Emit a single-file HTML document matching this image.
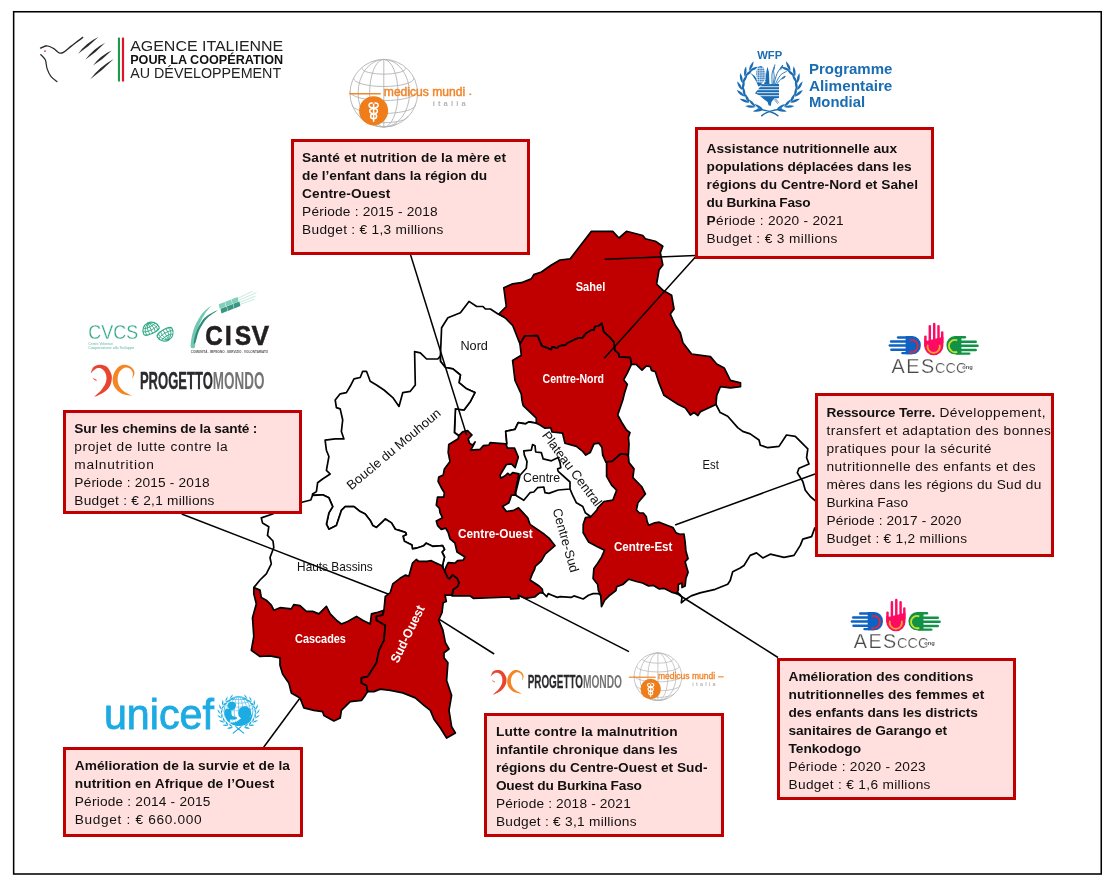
<!DOCTYPE html>
<html lang="fr"><head><meta charset="utf-8"><title>Burkina Faso – projets nutrition</title>
<style>
html,body{margin:0;padding:0;background:#fff;}
body{width:1118px;height:882px;position:relative;overflow:hidden;font-family:"Liberation Sans",sans-serif;}
svg{position:absolute;left:0;top:0;}
svg text{font-family:"Liberation Sans",sans-serif;}
.w{fill:#fff;stroke:#000;stroke-width:1.7;stroke-linejoin:round;}
.r{fill:#c00000;stroke:#000;stroke-width:1.7;stroke-linejoin:round;}
.l{fill:none;stroke:#000;stroke-width:1.7;stroke-linejoin:round;}
.ld{stroke:#000;stroke-width:1.5;}
.box{position:absolute;border:3px solid #c00000;background:#ffe0de;box-sizing:content-box;}
.tx{position:absolute;top:0;}
.ln{position:absolute;left:0;white-space:nowrap;font-size:13.7px;line-height:18.03px;height:18.03px;color:#111;}
.ln b{font-weight:700;}
</style></head><body>
<svg width="1118" height="882" viewBox="0 0 1118 882">
<rect x="13.65" y="11.75" width="1087.6" height="862.25" fill="none" stroke="#000" stroke-width="1.55"/>
<polygon class="w" points="440.4,356.0 441.6,327.8 447.9,317.7 460.4,312.7 469.0,301.4 476.7,306.5 483.0,306.5 485.4,309.0 490.4,309.0 498.0,314.0 510.0,320.0 525.0,345.0 525.0,395.0 540.0,420.0 536.3,423.2 528.8,421.9 525.7,423.8 518.2,422.6 515.0,429.4 505.7,431.3 506.9,443.9 500.0,456.0 475.0,457.0 464.0,447.0 462.0,438.0 458.8,435.7 454.4,432.5 455.4,408.9 464.0,410.0 470.4,401.4 474.9,392.6 466.6,388.8 459.0,382.6 460.4,375.0 452.9,368.8 445.4,367.5 440.4,361.3 440.4,356.0"/>
<polygon class="w" points="440.4,356.0 440.4,361.3 445.4,367.5 452.9,368.8 460.4,375.0 459.0,382.6 466.6,388.8 474.9,392.6 470.4,401.4 464.0,410.0 455.4,408.9 454.4,432.5 458.8,435.7 464.0,445.0 460.0,500.0 460.0,540.0 470.0,557.0 460.0,566.0 450.0,572.0 444.5,570.8 444.5,570.8 443.2,570.0 442.6,565.1 444.5,557.0 442.0,552.0 444.5,549.4 442.6,545.7 432.6,546.3 426.3,543.2 423.8,545.7 416.3,548.2 412.5,548.8 411.9,545.0 404.4,541.3 403.0,536.3 406.3,534.4 405.6,532.5 400.0,530.6 395.3,529.2 391.5,522.9 385.3,519.0 382.7,521.7 376.5,527.4 372.7,525.4 370.2,520.4 365.2,514.0 360.2,511.6 354.0,506.6 345.2,506.6 341.4,510.4 336.4,525.4 328.9,529.2 326.4,524.2 328.9,512.9 332.7,506.6 328.9,497.8 322.6,494.8 312.6,495.3 312.6,494.0 316.4,491.6 317.6,482.8 322.6,479.0 330.2,474.0 326.4,470.3 328.9,456.5 326.4,450.2 325.1,440.2 335.2,438.9 343.9,438.9 341.4,431.4 342.7,420.0 340.2,408.9 336.4,407.6 335.2,400.0 340.2,393.8 346.4,392.6 350.2,386.3 354.0,378.8 360.2,377.5 362.7,371.3 366.5,371.3 370.2,381.3 376.5,385.0 384.0,390.0 392.8,397.6 399.0,406.4 402.8,392.6 410.3,391.3 415.3,385.0 414.6,351.6 420.3,352.8 426.6,359.0 437.8,359.0 440.4,356.0"/>
<polygon class="w" points="312.6,495.3 322.6,494.8 328.9,497.8 332.7,506.6 328.9,512.9 326.4,524.2 328.9,529.2 336.4,525.4 341.4,510.4 345.2,506.6 354.0,506.6 360.2,511.6 365.2,514.0 370.2,520.4 372.7,525.4 376.5,527.4 382.7,521.7 385.3,519.0 391.5,522.9 395.3,529.2 400.0,530.6 405.6,532.5 406.3,534.4 403.0,536.3 404.4,541.3 411.9,545.0 412.5,548.8 416.3,548.2 423.8,545.7 426.3,543.2 432.6,546.3 442.6,545.7 444.5,549.4 442.0,552.0 444.5,557.0 442.6,565.1 443.2,570.0 444.5,570.8 440.0,580.0 400.0,600.0 390.0,615.0 370.0,630.0 340.0,630.0 320.0,620.0 300.0,612.0 275.0,615.0 262.0,605.0 257.0,592.0 253.8,587.6 260.0,580.0 266.3,573.8 271.3,563.8 270.0,557.5 273.8,547.5 273.0,541.0 267.5,535.4 268.8,526.7 262.5,522.9 261.3,517.9 272.6,514.0 290.0,505.0 302.0,502.3 310.8,500.0 313.0,494.0"/>
<polygon class="w" points="716.0,404.5 720.2,412.6 727.7,416.3 737.7,427.6 742.7,431.4 750.2,433.9 759.0,440.0 760.3,445.2 767.8,447.7 779.0,446.4 786.5,435.0 795.3,436.4 805.3,446.4 807.8,448.9 806.6,457.7 809.0,464.0 799.0,468.2 797.3,472.7 802.8,481.5 805.3,490.3 810.3,496.5 814.8,500.3 820.0,505.0 820.0,525.0 814.8,527.9 811.6,536.6 802.8,539.1 800.3,545.4 794.0,555.4 784.0,557.4 770.3,554.2 762.8,557.9 756.5,552.9 750.2,555.4 744.0,565.5 740.2,568.0 732.7,571.7 730.2,580.5 727.7,584.3 715.2,589.3 700.0,592.9 691.2,595.9 685.1,599.7 681.3,602.8 682.0,597.4 680.5,595.2 677.0,592.0 670.0,580.0 670.0,540.0 660.0,530.0 638.0,520.0 630.0,500.0 635.0,486.0 627.0,470.0 622.0,458.0 622.0,440.0 618.0,425.0 612.0,415.0 617.0,400.0 618.0,385.0 624.0,370.0 626.0,363.0 635.0,360.0 645.0,362.0 652.0,365.0 662.0,380.0 668.0,393.0 680.0,401.0 688.0,405.0 694.0,408.0 700.0,408.0 712.0,402.0"/>
<polygon class="w" points="542.9,592.9 546.7,596.7 548.2,593.6 552.0,595.2 557.4,597.4 560.4,596.7 571.0,597.4 574.0,595.9 583.2,599.0 588.5,595.2 593.1,593.6 598.4,593.6 600.7,595.2 606.0,590.0 602.0,580.0 600.0,568.0 610.0,552.0 595.0,540.0 590.0,528.0 592.0,520.0 603.0,510.0 612.0,505.0 620.0,495.0 616.0,482.0 612.0,470.0 611.0,464.0 610.0,456.0 606.0,445.0 597.0,438.0 588.0,446.0 578.0,440.0 570.0,436.0 567.0,428.0 556.0,426.0 548.0,422.0 540.0,420.0 536.3,423.2 528.8,421.9 525.7,423.8 518.2,422.6 515.0,429.4 505.7,431.3 506.9,443.9 503.0,450.0 495.0,470.0 495.0,482.0 505.0,490.0 497.0,506.0 505.0,518.0 520.0,520.0 535.0,535.0 548.0,546.0 538.0,556.0 528.0,570.0 526.0,582.0 536.0,590.0"/>
<polygon class="w" points="523.8,450.8 531.3,450.1 532.6,444.5 535.0,445.7 535.7,452.0 541.3,452.6 543.2,458.9 551.4,460.8 558.2,457.6 560.0,462.7 560.8,467.7 557.6,468.9 558.2,471.4 570.0,482.0 570.0,489.0 558.2,490.0 548.9,493.4 545.0,492.7 543.8,487.0 537.6,487.7 533.8,492.0 530.0,492.7 523.8,500.3 515.7,495.2 515.7,492.7 520.0,475.2 526.3,468.3 527.0,461.4 524.4,455.1"/>
<polyline class="l" points="570.0,489.0 572.6,495.2 576.4,502.8 582.8,506.5 585.3,512.8 590.8,516.8"/>
<polygon class="r" points="591.4,231.3 612.7,231.3 619.0,238.0 626.5,231.3 642.8,235.5 645.3,238.8 655.3,241.3 662.8,246.3 660.3,252.6 662.8,265.0 659.0,270.0 656.6,284.0 662.8,290.2 671.6,295.2 674.0,309.0 670.3,314.0 675.3,325.3 680.3,332.8 682.9,342.8 691.6,354.0 710.4,356.6 716.7,364.0 724.2,367.9 730.4,380.4 740.5,382.9 740.5,386.7 730.4,387.9 720.4,386.7 716.7,395.4 716.0,404.5 700.4,411.7 697.9,415.5 694.0,412.5 690.4,415.0 685.4,408.0 677.8,404.2 664.0,395.4 659.0,382.9 655.3,371.6 651.5,370.4 650.3,366.6 646.4,365.8 642.0,370.2 636.1,364.3 631.4,364.3 630.2,357.7 619.2,357.0 618.4,353.3 614.7,350.3 614.0,342.2 609.6,337.1 603.7,331.9 601.8,323.4 598.5,326.0 594.8,326.7 594.1,330.1 591.2,330.1 586.0,333.4 582.3,338.1 578.6,337.8 567.6,343.0 565.4,345.2 559.5,345.9 557.3,348.1 552.1,346.9 551.4,349.6 541.8,345.9 537.4,335.6 531.3,335.8 525.0,335.8 520.0,344.0 512.6,325.3 505.0,317.7 498.8,314.0 506.3,306.5 503.8,287.7 512.6,283.9 521.3,282.7 531.3,278.9 533.8,274.6 541.4,272.0 551.4,265.0 560.0,260.0 570.2,258.8"/>
<polygon class="r" points="520.0,344.0 525.0,335.8 531.3,335.8 537.4,335.6 541.8,345.9 551.4,349.6 552.1,346.9 557.3,348.1 559.5,345.9 565.4,345.2 567.6,343.0 578.6,337.8 582.3,338.1 586.0,333.4 591.2,330.1 594.1,330.1 594.8,326.7 598.5,326.0 601.8,323.4 603.7,331.9 609.6,337.1 614.0,342.2 614.7,350.3 618.4,353.3 619.2,357.0 630.2,357.7 631.4,364.3 627.3,373.2 623.6,379.8 627.3,384.2 624.3,393.8 622.9,399.7 617.7,415.0 621.5,422.0 626.5,430.0 630.0,432.6 628.4,437.6 629.0,443.9 628.4,455.1 626.5,454.5 620.8,453.9 616.5,457.6 612.0,461.4 605.8,462.0 602.7,455.1 602.0,447.6 599.0,443.2 594.0,443.9 590.2,452.6 585.8,455.1 582.7,451.4 576.4,446.4 565.0,443.2 562.6,433.2 552.0,432.0 550.7,427.6 545.0,428.2 540.0,425.0 536.3,423.2 536.3,418.2 523.2,405.6 521.9,400.0 521.3,394.2 515.0,380.4 512.6,360.4 521.3,355.3"/>
<polygon class="r" points="462.6,431.9 467.6,430.7 472.0,435.0 468.2,438.8 469.5,443.2 472.6,445.1 475.1,441.9 472.6,446.9 470.7,450.1 480.1,449.4 483.2,445.7 488.9,445.1 490.1,442.6 505.8,443.8 507.6,448.2 514.5,448.2 518.3,457.0 515.2,467.6 511.4,463.9 506.4,464.5 500.1,475.1 500.8,478.3 505.1,475.8 507.6,473.3 510.1,475.1 512.7,472.6 518.9,473.9 515.2,492.7 515.7,495.2 511.4,495.2 508.9,502.8 502.6,506.5 506.4,511.5 513.9,510.3 518.5,507.8 527.7,517.8 530.0,524.4 544.4,534.3 549.0,538.1 555.0,545.7 545.2,554.1 541.4,560.9 535.3,566.3 534.6,569.3 532.3,573.9 530.0,580.0 539.1,586.0 542.2,589.0 542.9,592.9 540.0,592.7 534.6,597.0 525.2,598.3 518.3,595.2 519.0,598.3 510.8,599.0 510.2,597.0 473.3,598.3 470.0,595.8 452.0,595.8 453.2,589.5 457.6,586.4 458.9,582.7 457.0,578.3 452.6,575.1 449.5,578.9 447.6,577.6 444.5,570.8 446.3,566.4 448.2,562.6 455.0,563.2 457.6,560.7 463.2,560.1 465.0,557.0 457.0,552.0 455.0,543.2 450.0,538.8 448.2,532.5 445.7,528.1 441.3,529.4 437.6,525.6 436.3,520.9 442.5,517.7 440.0,512.7 439.4,508.3 436.3,505.2 437.5,497.1 443.8,497.1 444.4,492.7 441.3,487.7 438.1,481.4 438.8,477.0 443.2,475.1 444.4,468.9 450.0,461.4 448.2,452.6 448.8,444.4 458.2,438.8 458.8,435.7"/>
<polygon class="r" points="605.8,462.0 612.0,461.4 616.5,457.6 620.8,453.9 626.5,454.5 628.4,456.4 629.0,462.6 634.0,468.9 632.9,477.7 641.6,486.5 645.4,494.0 637.9,502.8 636.4,510.0 639.5,513.0 643.3,513.0 646.3,516.8 647.1,521.4 648.6,525.2 654.7,522.9 659.3,522.2 666.9,525.2 672.9,527.5 676.0,532.8 679.8,534.3 684.0,534.0 685.1,541.9 685.9,551.0 688.1,558.7 685.1,561.7 688.1,572.3 685.9,578.4 685.1,586.0 682.0,587.6 682.0,583.0 678.3,584.5 678.3,589.8 676.7,593.6 671.4,592.1 663.8,588.3 659.3,589.0 653.2,585.3 648.6,586.0 642.5,583.0 636.4,581.5 628.8,579.2 622.8,584.5 616.7,586.8 615.9,590.6 609.8,595.2 604.5,600.5 601.5,606.6 600.7,595.2 598.4,590.6 597.7,584.5 593.1,578.4 593.9,568.5 597.7,563.2 601.5,557.1 604.5,550.3 596.9,546.5 588.5,541.9 583.2,532.8 583.2,524.4 585.5,517.6 590.8,516.8 596.9,510.0 597.8,507.8 604.0,501.5 612.8,500.2 616.6,490.2 611.6,485.2 606.6,476.4 606.6,462.6"/>
<polygon class="r" points="253.8,587.6 260.0,590.1 261.3,597.6 266.3,600.2 271.3,605.2 273.8,610.2 280.0,607.7 291.3,608.9 293.8,604.7 300.0,605.7 306.4,611.4 312.6,611.4 318.9,613.9 326.4,606.4 330.2,613.9 336.4,620.2 341.4,624.0 347.7,621.5 356.5,616.4 362.7,620.2 370.2,624.0 371.5,613.9 376.5,612.7 384.0,610.2 382.7,615.2 376.5,616.4 376.5,620.2 385.3,625.2 384.0,640.3 379.0,650.3 376.5,662.8 370.2,672.8 367.7,676.6 361.5,677.8 361.5,682.9 366.5,685.4 367.7,691.6 365.2,695.4 361.5,700.4 350.2,701.7 341.4,710.4 340.2,718.0 333.9,721.0 323.9,715.4 322.6,711.7 313.9,710.4 303.9,707.9 300.0,697.9 291.3,692.9 288.8,682.9 282.6,674.1 280.0,665.3 280.0,657.8 270.0,655.8 260.0,656.5 251.3,650.3 253.8,636.5 252.5,617.7 256.3,603.9 253.8,593.9"/>
<polygon class="r" points="384.0,610.2 385.3,596.4 390.3,592.6 392.8,583.9 400.0,578.3 405.6,575.1 408.8,576.4 410.6,570.0 412.5,563.2 416.3,559.5 418.8,561.4 426.9,561.4 431.3,560.7 435.0,562.6 441.9,565.7 444.5,570.8 447.6,577.6 449.5,578.9 452.6,575.1 457.0,578.3 458.9,582.7 457.6,586.4 453.2,589.5 452.0,595.2 445.0,595.0 446.3,601.5 443.2,602.7 442.0,612.7 440.0,617.0 438.8,620.3 442.9,630.2 445.4,642.8 449.0,649.0 444.0,652.8 444.0,657.8 447.9,662.8 446.6,680.4 451.6,695.4 449.0,710.4 451.6,726.7 455.4,733.0 446.6,738.0 440.4,728.0 434.0,719.2 430.3,710.4 424.0,705.4 415.3,697.9 402.8,692.9 390.3,690.4 380.2,689.1 374.0,691.6 367.7,691.6 366.5,685.4 361.5,682.9 361.5,677.8 367.7,676.6 370.2,672.8 376.5,662.8 379.0,650.3 384.0,640.3 385.3,625.2 376.5,620.2 376.5,616.4 382.7,615.2"/>
<line class="ld" x1="410.3" y1="254" x2="466.6" y2="435"/>
<line class="ld" x1="695.4" y1="255.5" x2="604.7" y2="259.3"/>
<line class="ld" x1="695.4" y1="257" x2="604" y2="358.6"/>
<line class="ld" x1="181.7" y1="514" x2="388" y2="594"/>
<line class="ld" x1="815" y1="474" x2="675.1" y2="525"/>
<line class="ld" x1="263.1" y1="748" x2="300" y2="698"/>
<line class="ld" x1="439.8" y1="619.6" x2="494.2" y2="654"/>
<line class="ld" x1="518.3" y1="595.2" x2="629" y2="651.6"/>
<line class="ld" x1="676" y1="593" x2="778" y2="657.5"/>
<text x="590.5" y="291" text-anchor="middle" font-size="13" fill="#fff" font-weight="700" textLength="29.5" lengthAdjust="spacingAndGlyphs">Sahel</text>
<text x="573.3" y="382.6" text-anchor="middle" font-size="13" fill="#fff" font-weight="700" textLength="61.5" lengthAdjust="spacingAndGlyphs">Centre-Nord</text>
<text x="474.2" y="349.6" text-anchor="middle" font-size="13" fill="#111" font-weight="400" textLength="27.5" lengthAdjust="spacingAndGlyphs">Nord</text>
<text x="495.3" y="538.4" text-anchor="middle" font-size="13" fill="#fff" font-weight="700" textLength="74.7" lengthAdjust="spacingAndGlyphs">Centre-Ouest</text>
<text x="643.2" y="550.8" text-anchor="middle" font-size="13" fill="#fff" font-weight="700" textLength="58.4" lengthAdjust="spacingAndGlyphs">Centre-Est</text>
<text x="541.6" y="481.8" text-anchor="middle" font-size="13" fill="#111" font-weight="400" textLength="37" lengthAdjust="spacingAndGlyphs">Centre</text>
<text x="710.7" y="469.0" text-anchor="middle" font-size="13" fill="#111" font-weight="400" textLength="16.3" lengthAdjust="spacingAndGlyphs">Est</text>
<text x="320.5" y="643.3" text-anchor="middle" font-size="13" fill="#fff" font-weight="700" textLength="50.8" lengthAdjust="spacingAndGlyphs">Cascades</text>
<text x="334.9" y="570.8" text-anchor="middle" font-size="13" fill="#111" font-weight="400" textLength="75.6" lengthAdjust="spacingAndGlyphs">Hauts Bassins</text>
<text x="396.5" y="452.5" text-anchor="middle" font-size="13" fill="#111" font-weight="400" textLength="118" lengthAdjust="spacingAndGlyphs" transform="rotate(-40 396.5 452.5)">Boucle du Mouhoun</text>
<text x="568.5" y="471.5" text-anchor="middle" font-size="13" fill="#111" font-weight="400" textLength="90" lengthAdjust="spacingAndGlyphs" transform="rotate(53 568.5 471.5)">Plateau Central</text>
<text x="561.5" y="541.5" text-anchor="middle" font-size="13" fill="#111" font-weight="400" textLength="66" lengthAdjust="spacingAndGlyphs" transform="rotate(74 561.5 541.5)">Centre-Sud</text>
<text x="411.5" y="636" text-anchor="middle" font-size="13" fill="#fff" font-weight="700" textLength="62" lengthAdjust="spacingAndGlyphs" transform="rotate(-64 411.5 636)">Sud-Ouest</text>
<g id="aics">
<g fill="none" stroke="#2a2a2a" stroke-width="1.35" stroke-linecap="round">
<path d="M40.5,48.1 C41.6,47.7 44.9,45.7 47.1,45.8 C49.3,45.8 51.5,47.2 53.5,48.4 C55.5,49.5 57.5,52.2 59.2,52.9 C60.8,53.5 61.3,53.5 63.3,52.4 C65.4,51.3 68.0,48.6 71.2,46.1 C74.5,43.6 80.8,38.9 82.7,37.4"/>
<path stroke-width="1.25" d="M40.8,54.6 C41.5,55.5 44.3,57.5 45.3,59.8 C46.4,62.1 46.1,65.8 47.1,68.6 C48.0,71.5 49.5,74.6 51.1,76.7 C52.7,78.8 55.9,80.7 56.9,81.5"/>
</g>
<path fill="#2a2a2a" d="M78.1,53.8 Q86.1,42.9 98.4,37.1 Q89.0,46.4 78.1,53.8Z"/>
<path fill="#2a2a2a" d="M85.3,59.8 Q93.1,48.8 105.2,42.7 Q96.1,52.2 85.3,59.8Z"/>
<path fill="#2a2a2a" d="M93.0,65.6 Q100.2,55.4 111.7,50.4 Q103.1,59.0 93.0,65.6Z"/>
<path fill="#2a2a2a" d="M90.2,79.3 Q99.8,66.7 113.7,59.1 Q102.8,70.2 90.2,79.3Z"/>
<circle cx="45.0" cy="51.1" r="0.85" fill="#e8182c"/>
<rect x="117.9" y="37.6" width="2.1" height="43.9" fill="#1f9a4c"/>
<rect x="121.9" y="37.6" width="2.2" height="43.9" fill="#e0142c"/>
<text x="130.2" y="51.1" font-size="14.5" fill="#222" textLength="153" lengthAdjust="spacingAndGlyphs">AGENCE ITALIENNE</text>
<text x="130.2" y="64.1" font-size="12.4" font-weight="700" fill="#111" textLength="153" lengthAdjust="spacingAndGlyphs">POUR LA COOPÉRATION</text>
<text x="130.2" y="78.1" font-size="14.1" fill="#222" textLength="151" lengthAdjust="spacingAndGlyphs">AU DÉVELOPPEMENT</text>
</g>
<g id="mm1"><g fill="none" stroke="#b4b4b4" stroke-width="0.90">
<circle cx="383.8" cy="93.2" r="33.8"/>
<line x1="383.8" y1="59.4" x2="383.8" y2="127.0"/>
<ellipse cx="383.8" cy="93.2" rx="14.2" ry="33.8"/>
<ellipse cx="383.8" cy="93.2" rx="25.7" ry="33.8"/>
<path d="M362.1,68.3 A21.7,5.9 0 0 0 405.5,68.3"/>
<path d="M353.7,78.4 A30.1,8.1 0 0 0 413.9,78.4"/>
<path d="M350.0,91.5 A33.8,9.1 0 0 0 417.6,91.5"/>
<path d="M352.2,104.9 A31.6,8.5 0 0 0 415.4,104.9"/>
<path d="M359.9,116.2 A23.9,6.5 0 0 0 407.7,116.2"/>
<path d="M371.1,123.4 A12.7,3.4 0 0 0 396.5,123.4"/>
</g>
<rect x="349.4" y="93.0" width="31.3" height="1.5" fill="#f0852a"/>
<circle cx="373.6" cy="110.7" r="14.5" fill="#ee7d1a"/>
<g fill="none" stroke="#fff" stroke-width="1.50" stroke-linecap="round">
<line x1="373.6" y1="102.2" x2="373.6" y2="121.2"/>
<ellipse cx="373.6" cy="105.2" rx="4.6" ry="2.5"/>
<ellipse cx="373.6" cy="110.9" rx="3.8" ry="2.5"/>
<ellipse cx="373.6" cy="116.3" rx="3.0" ry="2.5"/>
</g>
<rect x="372.7" y="101.2" width="1.8" height="2.5" fill="#ee7d1a"/>
<text x="383.8" y="95.8" font-size="11.9" fill="#f0852a" stroke="#f0852a" stroke-width="0.45" textLength="81.4" lengthAdjust="spacingAndGlyphs">medicus mundi</text>
<rect x="469.4" y="93.5" width="1.8" height="1.6" fill="#f0852a"/>
<text x="432.7" y="105.7" font-size="7.6" font-weight="700" fill="#b4b4b4" textLength="33.0" lengthAdjust="spacing">italia</text></g>
<g id="mm2"><g fill="none" stroke="#b4b4b4" stroke-width="0.72">
<circle cx="657.9" cy="676.7" r="23.8"/>
<line x1="657.9" y1="652.9" x2="657.9" y2="700.5"/>
<ellipse cx="657.9" cy="676.7" rx="10.0" ry="23.8"/>
<ellipse cx="657.9" cy="676.7" rx="18.1" ry="23.8"/>
<path d="M642.6,659.1 A15.3,4.1 0 0 0 673.2,659.1"/>
<path d="M636.7,666.3 A21.2,5.7 0 0 0 679.1,666.3"/>
<path d="M634.1,675.5 A23.8,6.4 0 0 0 681.7,675.5"/>
<path d="M635.7,684.9 A22.2,6.0 0 0 0 680.1,684.9"/>
<path d="M641.1,692.9 A16.8,4.5 0 0 0 674.7,692.9"/>
<path d="M649.0,697.9 A8.9,2.4 0 0 0 666.8,697.9"/>
</g>
<rect x="628.8" y="676.6" width="26.9" height="1.2" fill="#f0852a"/>
<circle cx="650.7" cy="689.0" r="10.2" fill="#ee7d1a"/>
<g fill="none" stroke="#fff" stroke-width="1.06" stroke-linecap="round">
<line x1="650.7" y1="683.0" x2="650.7" y2="696.4"/>
<ellipse cx="650.7" cy="685.1" rx="3.2" ry="1.8"/>
<ellipse cx="650.7" cy="689.2" rx="2.7" ry="1.8"/>
<ellipse cx="650.7" cy="693.0" rx="2.1" ry="1.8"/>
</g>
<rect x="650.1" y="682.3" width="1.3" height="1.8" fill="#ee7d1a"/>
<text x="657.9" y="678.5" font-size="8.4" fill="#f0852a" stroke="#f0852a" stroke-width="0.32" textLength="57.3" lengthAdjust="spacingAndGlyphs">medicus mundi</text>
<rect x="718.1" y="676.3" width="5.6" height="1.1" fill="#f0852a"/>
<text x="692.3" y="685.5" font-size="5.4" font-weight="700" fill="#b4b4b4" textLength="23.2" lengthAdjust="spacing">italia</text></g>
<g id="wfp" fill="#1a6cb3">
<text x="757.2" y="58.5" font-size="10.6" font-weight="700" textLength="25" lengthAdjust="spacingAndGlyphs">WFP</text>
<path fill="#1a6cb3" d="M763.1,109.7 Q760.5,105.0 754.4,104.0 Q757.8,109.2 763.1,109.7Z"/>
<path fill="#1a6cb3" d="M763.1,109.7 Q758.1,108.0 752.8,111.3 Q758.8,112.9 763.1,109.7Z"/>
<path fill="#1a6cb3" d="M755.5,107.0 Q754.3,101.9 748.6,99.3 Q750.6,105.2 755.5,107.0Z"/>
<path fill="#1a6cb3" d="M755.5,107.0 Q751.2,104.0 745.2,105.9 Q750.6,109.0 755.5,107.0Z"/>
<path fill="#1a6cb3" d="M749.2,102.6 Q749.5,97.3 744.7,93.2 Q744.9,99.5 749.2,102.6Z"/>
<path fill="#1a6cb3" d="M749.2,102.6 Q745.9,98.5 739.6,98.7 Q744.0,103.2 749.2,102.6Z"/>
<path fill="#1a6cb3" d="M744.7,96.8 Q746.5,91.8 743.2,86.5 Q741.6,92.5 744.7,96.8Z"/>
<path fill="#1a6cb3" d="M744.7,96.8 Q742.7,91.9 736.7,90.1 Q739.5,95.7 744.7,96.8Z"/>
<path fill="#1a6cb3" d="M742.3,90.1 Q745.7,86.0 744.3,79.9 Q740.8,85.1 742.3,90.1Z"/>
<path fill="#1a6cb3" d="M742.3,90.1 Q742.0,84.8 737.0,81.2 Q737.8,87.4 742.3,90.1Z"/>
<path fill="#1a6cb3" d="M742.3,83.2 Q746.8,80.4 747.6,74.2 Q742.5,77.9 742.3,83.2Z"/>
<path fill="#1a6cb3" d="M742.3,83.2 Q743.8,78.1 740.2,73.0 Q738.9,79.1 742.3,83.2Z"/>
<path fill="#1a6cb3" d="M744.6,76.5 Q749.8,75.4 752.6,69.8 Q746.6,71.6 744.6,76.5Z"/>
<path fill="#1a6cb3" d="M744.6,76.5 Q747.7,72.2 746.0,66.2 Q742.8,71.5 744.6,76.5Z"/>
<path fill="#1a6cb3" d="M749.1,70.7 Q754.4,71.2 758.7,66.7 Q752.5,66.6 749.1,70.7Z"/>
<path fill="#1a6cb3" d="M749.1,70.7 Q753.4,67.5 753.6,61.3 Q748.9,65.4 749.1,70.7Z"/>
<path fill="#1a6cb3" d="M776.5,109.7 Q780.8,112.9 786.8,111.3 Q781.5,108.0 776.5,109.7Z"/>
<path fill="#1a6cb3" d="M776.5,109.7 Q781.8,109.2 785.2,104.0 Q779.1,105.0 776.5,109.7Z"/>
<path fill="#1a6cb3" d="M784.1,107.0 Q789.0,109.0 794.4,105.9 Q788.4,104.0 784.1,107.0Z"/>
<path fill="#1a6cb3" d="M784.1,107.0 Q789.0,105.2 791.0,99.3 Q785.3,101.9 784.1,107.0Z"/>
<path fill="#1a6cb3" d="M790.4,102.6 Q795.6,103.2 800.0,98.7 Q793.7,98.5 790.4,102.6Z"/>
<path fill="#1a6cb3" d="M790.4,102.6 Q794.7,99.5 794.9,93.2 Q790.1,97.3 790.4,102.6Z"/>
<path fill="#1a6cb3" d="M794.9,96.8 Q800.1,95.7 802.9,90.1 Q796.9,91.9 794.9,96.8Z"/>
<path fill="#1a6cb3" d="M794.9,96.8 Q798.0,92.5 796.4,86.5 Q793.1,91.8 794.9,96.8Z"/>
<path fill="#1a6cb3" d="M797.3,90.1 Q801.8,87.4 802.6,81.2 Q797.6,84.8 797.3,90.1Z"/>
<path fill="#1a6cb3" d="M797.3,90.1 Q798.8,85.1 795.3,79.9 Q793.9,86.0 797.3,90.1Z"/>
<path fill="#1a6cb3" d="M797.3,83.2 Q800.7,79.1 799.4,73.0 Q795.8,78.1 797.3,83.2Z"/>
<path fill="#1a6cb3" d="M797.3,83.2 Q797.1,77.9 792.0,74.2 Q792.8,80.4 797.3,83.2Z"/>
<path fill="#1a6cb3" d="M795.0,76.5 Q796.8,71.5 793.6,66.2 Q791.9,72.2 795.0,76.5Z"/>
<path fill="#1a6cb3" d="M795.0,76.5 Q793.0,71.6 787.0,69.8 Q789.8,75.4 795.0,76.5Z"/>
<path fill="#1a6cb3" d="M790.5,70.7 Q790.7,65.4 786.0,61.3 Q786.2,67.5 790.5,70.7Z"/>
<path fill="#1a6cb3" d="M790.5,70.7 Q787.1,66.6 780.9,66.7 Q785.2,71.2 790.5,70.7Z"/>
<path d="M761.7,115.8 Q766.8,111.0 781.6,109.1 M777.9,115.8 Q772.7,111.0 758.0,109.1" fill="none" stroke="#1a6cb3" stroke-width="1.5" stroke-linecap="round"/>
<path d="M755.0,93.3 L759.5,87.4 L762.4,84.3 L779.0,84.1 L779.0,98.1 L774.2,98.5 L771.4,102.1 L770.9,105.8 L768.7,105.5 L767.6,102.1 L763.9,99.2 L759.5,95.5Z"/>
<line x1="756.9" y1="86.7" x2="779.4" y2="86.7" stroke="#fff" stroke-width="0.85"/>
<line x1="756.9" y1="89.7" x2="779.4" y2="89.7" stroke="#fff" stroke-width="0.85"/>
<line x1="756.9" y1="92.7" x2="779.4" y2="92.7" stroke="#fff" stroke-width="0.85"/>
<line x1="756.9" y1="95.7" x2="779.4" y2="95.7" stroke="#fff" stroke-width="0.85"/>
<path d="M749.3,72.1 L754.7,76.0 L758.9,81.9 L763.1,84.3 L758.4,86.5 L755.9,80.9 L752.5,75.6Z"/>
<path d="M767.4,66.8 L768.9,71.9 L769.5,84.3 L764.0,84.3 L765.8,77.1 L766.5,70.8Z"/>
<ellipse cx="760.9" cy="74.3" rx="4.6" ry="8.4" transform="rotate(-4 760.9 74.3)"/>
<g stroke="#fff" stroke-width="0.55" fill="none">
<line x1="757.4" y1="66.8" x2="757.7" y2="82.4"/>
<line x1="759.2" y1="66.8" x2="759.5" y2="82.4"/>
<line x1="760.9" y1="66.8" x2="761.2" y2="82.4"/>
<line x1="762.7" y1="66.8" x2="763.0" y2="82.4"/>
<line x1="764.5" y1="66.8" x2="764.8" y2="82.4"/>
<line x1="755.8" y1="68.6" x2="765.8" y2="68.3"/>
<line x1="755.8" y1="70.8" x2="765.8" y2="70.5"/>
<line x1="755.8" y1="73.0" x2="765.8" y2="72.7"/>
<line x1="755.8" y1="75.3" x2="765.8" y2="74.9"/>
<line x1="755.8" y1="77.5" x2="765.8" y2="77.1"/>
<line x1="755.8" y1="79.7" x2="765.8" y2="79.3"/>
<line x1="755.8" y1="81.9" x2="765.8" y2="81.5"/>
</g>
<g fill="none" stroke="#1a6cb3" stroke-width="0.9" stroke-linecap="round">
<path d="M772.1,83.9 C772.1,82.1 771.7,76.6 772.1,73.4 C772.6,70.3 774.5,66.4 774.9,64.9"/>
<path d="M774.1,83.9 C774.6,82.1 775.7,76.5 777.1,73.4 C778.6,70.3 781.7,66.7 782.7,65.3"/>
<path d="M775.5,83.9 C776.3,82.5 778.3,77.7 780.1,75.6 C781.9,73.5 785.3,72.1 786.4,71.4"/>
<path d="M776.9,83.9 C777.5,83.1 779.5,80.5 780.8,79.3 C782.2,78.1 784.2,77.2 784.9,76.7"/>
<path d="M773.1,83.9 C773.3,82.7 774.1,79.3 774.2,77.1 C774.3,74.9 773.6,71.9 773.5,70.8"/>
<path stroke-width="0.5" d="M773.8,99.2 L777.9,104.0"/>
<path stroke-width="0.5" d="M775.3,99.2 L777.1,102.1"/>
<path stroke-width="0.5" d="M776.4,99.2 L778.8,102.9"/>
</g>
<ellipse cx="781.6" cy="67.4" rx="2.7" ry="0.9" opacity="0.8" transform="rotate(-58 781.6 67.4)"/>
<ellipse cx="783.6" cy="77.5" rx="2.4" ry="0.9" opacity="0.8" transform="rotate(-38 783.6 77.5)"/>
<ellipse cx="774.1" cy="68.6" rx="2.2" ry="0.7" opacity="0.8" transform="rotate(-75 774.1 68.6)"/>
<text x="809" y="74.1" font-size="14.2" font-weight="700" textLength="83.4" lengthAdjust="spacingAndGlyphs">Programme</text>
<text x="809" y="90.7" font-size="14.2" font-weight="700" textLength="83.4" lengthAdjust="spacingAndGlyphs">Alimentaire</text>
<text x="809" y="106.8" font-size="14.2" font-weight="700" textLength="56" lengthAdjust="spacingAndGlyphs">Mondial</text>
</g>
<g id="cvcs">
<text x="88.3" y="339.2" font-size="20" fill="#2fa987" stroke="#fff" stroke-width="0.3" textLength="49.8" lengthAdjust="spacingAndGlyphs">CVCS</text>
<g fill="none" stroke="#2fa987" stroke-width="0.8" transform="rotate(-25 151.4 330.6)">
<path d="M142.9,330.6 A8.5,8.5 0 0 1 159.9,330.6 A8.5,3.0 0 0 1 142.9,330.6Z" stroke-width="1.1"/>
<line x1="151.4" y1="322.1" x2="151.4" y2="333.6"/>
<path d="M148.3,333.2 Q147.2,327.2 151.4,322.1 Q155.7,327.2 154.5,333.2"/>
<path d="M145.7,333.2 Q143.4,327.2 151.4,322.1 Q159.4,327.2 157.1,333.2"/>
<path d="M143.4,327.6 A8.0,2.4 0 0 0 159.4,327.6"/>
<path d="M145.2,324.8 A6.2,1.9 0 0 0 157.6,324.8"/>
</g>
<g fill="none" stroke="#2fa987" stroke-width="0.8" transform="rotate(150 164.6 332.6)">
<path d="M156.1,332.6 A8.5,8.5 0 0 1 173.1,332.6 A8.5,3.0 0 0 1 156.1,332.6Z" stroke-width="1.1"/>
<line x1="164.6" y1="324.1" x2="164.6" y2="335.6"/>
<path d="M161.5,335.2 Q160.3,329.2 164.6,324.1 Q168.8,329.2 167.7,335.2"/>
<path d="M158.9,335.2 Q156.6,329.2 164.6,324.1 Q172.6,329.2 170.3,335.2"/>
<path d="M156.6,329.6 A8.0,2.4 0 0 0 172.6,329.6"/>
<path d="M158.4,326.8 A6.2,1.9 0 0 0 170.8,326.8"/>
</g>
<text x="88.3" y="344.6" font-size="3.6" fill="#2fa987" opacity="0.8" textLength="24.4" lengthAdjust="spacingAndGlyphs">Centro Volontari</text>
<text x="88.3" y="348.6" font-size="3.6" fill="#2fa987" opacity="0.8" textLength="45.7" lengthAdjust="spacingAndGlyphs">Cooperazione allo Sviluppo</text>
</g>
<g id="cisv">
<path fill="#74c8b1" d="M190.8,347.2 C190.2,345.7 191.0,341.6 191.4,338.7 C191.9,335.8 192.6,332.6 193.5,329.7 C194.4,326.9 195.5,324.5 197.1,321.7 C198.6,318.8 200.6,315.3 202.9,312.7 C205.2,310.1 210.6,305.9 210.9,306.0 C211.3,306.1 206.9,310.7 205.1,313.4 C203.3,316.2 201.6,319.6 200.2,322.6 C198.8,325.6 197.6,328.7 196.8,331.5 C196.0,334.3 195.6,337.0 195.3,339.6 C195.0,342.2 195.6,345.9 194.8,347.2 C194.1,348.4 191.4,348.6 190.8,347.2Z"/>
<path fill="#2f8c7a" d="M193.8,343.1 C193.8,341.7 194.6,336.9 195.6,333.7 C196.6,330.6 197.9,327.3 199.8,324.4 C201.6,321.4 203.4,318.7 206.5,316.3 C209.5,313.9 217.8,309.9 218.1,310.0 C218.4,310.2 211.0,314.6 208.4,317.0 C205.8,319.4 204.1,321.8 202.4,324.4 C200.8,326.9 199.6,329.4 198.4,332.4 C197.3,335.4 196.3,340.5 195.6,342.2 C194.8,344.0 193.8,344.6 193.8,343.1Z"/>
<g transform="rotate(-21 229.7 305.4)">
<path fill="#7fd0b9" d="M219.9,300.4 h6.5 l-0.8,4.6 h-6.5z"/>
<path fill="#7fd0b9" d="M226.8,300.4 h6.5 l-0.8,4.6 h-6.5z"/>
<path fill="#7fd0b9" d="M233.7,300.4 h6.5 l-0.8,4.6 h-6.5z"/>
<path fill="#3a9683" d="M219.9,305.3 h6.5 l-0.8,4.6 h-6.5z"/>
<path fill="#3a9683" d="M226.8,305.3 h6.5 l-0.8,4.6 h-6.5z"/>
<path fill="#3a9683" d="M233.7,305.3 h6.5 l-0.8,4.6 h-6.5z"/>
<g stroke="#8fd3c0" stroke-width="0.6" opacity="0.75">
<line x1="240.2" y1="301.8" x2="256.2" y2="300.3"/>
<line x1="240.2" y1="303.9" x2="259.2" y2="303.0"/>
<line x1="240.2" y1="306.2" x2="257.2" y2="305.9"/>
<line x1="240.2" y1="308.2" x2="255.2" y2="308.5"/>
</g></g>
<text transform="scale(0.85,1)" x="241.6 264.6 276.4" y="344.7" font-size="28.4" font-weight="700" fill="#231f20" stroke="#231f20" stroke-width="0.7">CIS</text>
<text transform="scale(0.93,1)" x="270.4" y="344.7" font-size="28.4" font-weight="700" fill="#231f20" stroke="#231f20" stroke-width="0.5">V</text>
<text x="190.8" y="353" font-size="3.3" font-weight="700" fill="#555" textLength="77.4" lengthAdjust="spacingAndGlyphs">COMUNITÀ . IMPEGNO . SERVIZIO . VOLONTARIATO</text>
</g>
<g id="pm1"><path fill="#e8452f" d="M90.8,373.3 C90.9,372.7 92.1,368.5 93.5,367.1 C94.9,365.6 97.1,364.8 99.3,364.7 C101.5,364.6 104.5,365.1 106.5,366.4 C108.4,367.8 110.0,370.8 110.9,372.9 C111.8,374.9 112.0,376.5 111.8,378.7 C111.7,380.9 111.1,383.6 109.9,385.9 C108.6,388.1 106.8,390.3 104.2,392.1 C101.7,393.9 94.9,397.1 94.4,396.8 C93.9,396.5 99.3,392.5 101.1,390.3 C102.9,388.1 104.5,385.8 105.4,383.6 C106.3,381.5 106.5,379.3 106.5,377.4 C106.4,375.5 105.9,373.6 105.0,372.2 C104.1,370.7 102.5,369.2 101.1,368.6 C99.7,368.0 97.8,368.0 96.4,368.4 C95.1,368.8 93.8,370.3 92.9,371.1 C91.9,371.9 90.7,374.0 90.8,373.3Z"/>
<path fill="#e8452f" d="M92.9,378.1 L96.8,380.0 L96.4,380.9 L93.2,379.0Z"/>
<path fill="#f58423" d="M132.2,378.4 C132.5,378.4 134.6,374.7 134.5,372.9 C134.4,371.1 133.2,368.9 131.7,367.5 C130.2,366.2 127.4,364.8 125.3,364.7 C123.1,364.5 120.9,365.1 119.0,366.4 C117.1,367.8 115.1,370.5 114.1,372.9 C113.0,375.3 112.5,378.4 112.7,380.9 C112.9,383.5 113.8,386.0 115.2,388.1 C116.7,390.2 118.8,392.2 121.5,393.5 C124.2,394.7 131.0,395.9 131.5,395.6 C132.0,395.3 126.4,393.2 124.4,391.7 C122.3,390.1 120.6,388.4 119.4,386.3 C118.3,384.2 117.6,381.5 117.6,379.2 C117.6,376.8 118.3,373.9 119.4,372.0 C120.6,370.1 122.6,368.3 124.4,367.7 C126.1,367.1 128.3,367.6 129.7,368.4 C131.1,369.3 132.4,371.2 132.9,372.9 C133.3,374.6 132.0,378.4 132.2,378.4Z"/>
<text x="139.9" y="388.9" font-size="23.6" font-weight="700" fill="#2b2a2d" stroke="#2b2a2d" stroke-width="0.35" textLength="73.0" lengthAdjust="spacingAndGlyphs">PROGETTO</text>
<text x="212.8" y="388.9" font-size="23.6" font-weight="700" fill="#747474" textLength="51.6" lengthAdjust="spacingAndGlyphs">MONDO</text></g>
<g id="pm2"><path fill="#e8452f" d="M490.6,676.7 C490.7,676.2 491.5,673.0 492.6,671.9 C493.7,670.8 495.4,670.2 497.0,670.1 C498.7,670.0 501.0,670.4 502.4,671.4 C503.9,672.5 505.1,674.8 505.8,676.3 C506.5,677.9 506.6,679.1 506.5,680.7 C506.4,682.4 506.0,684.4 505.0,686.1 C504.0,687.8 502.7,689.5 500.7,690.9 C498.8,692.3 493.7,694.6 493.3,694.4 C492.9,694.2 497.0,691.2 498.4,689.5 C499.8,687.9 500.9,686.1 501.6,684.4 C502.3,682.8 502.5,681.2 502.4,679.7 C502.4,678.3 502.0,676.9 501.4,675.8 C500.7,674.7 499.5,673.5 498.4,673.1 C497.3,672.6 495.9,672.6 494.9,672.9 C493.8,673.3 492.9,674.3 492.1,675.0 C491.4,675.6 490.5,677.2 490.6,676.7Z"/>
<path fill="#e8452f" d="M492.1,680.3 L495.1,681.7 L494.9,682.4 L492.4,680.9Z"/>
<path fill="#f58423" d="M521.9,680.5 C522.1,680.5 523.7,677.7 523.6,676.3 C523.6,674.9 522.7,673.3 521.5,672.3 C520.4,671.2 518.3,670.2 516.7,670.1 C515.1,670.0 513.3,670.4 511.9,671.4 C510.5,672.5 509.0,674.5 508.2,676.3 C507.4,678.2 507.0,680.5 507.2,682.4 C507.3,684.3 508.0,686.3 509.1,687.8 C510.2,689.4 511.8,690.9 513.8,691.9 C515.9,692.8 521.0,693.7 521.4,693.5 C521.8,693.3 517.5,691.7 516.0,690.5 C514.5,689.4 513.1,688.1 512.3,686.5 C511.4,684.9 510.9,682.9 510.9,681.1 C510.9,679.3 511.4,677.1 512.3,675.6 C513.1,674.2 514.7,672.8 516.0,672.4 C517.3,671.9 519.0,672.3 520.0,672.9 C521.1,673.6 522.1,675.1 522.4,676.3 C522.7,677.6 521.7,680.5 521.9,680.5Z"/>
<text x="527.7" y="688.4" font-size="17.9" font-weight="700" fill="#2b2a2d" stroke="#2b2a2d" stroke-width="0.26" textLength="55.3" lengthAdjust="spacingAndGlyphs">PROGETTO</text>
<text x="582.9" y="688.4" font-size="17.9" font-weight="700" fill="#747474" textLength="39.1" lengthAdjust="spacingAndGlyphs">MONDO</text></g>
<g id="aes1"><path fill="#0d62c4" d="M905.6,336.1 H912.4 A8.5,9.1 0 0 1 912.4,354.3 H905.6Z"/>
<line x1="898.1" y1="337.5" x2="910.4" y2="337.5" stroke="#0d62c4" stroke-width="2.45" stroke-linecap="round"/>
<line x1="891.1" y1="341.4" x2="907.2" y2="341.4" stroke="#0d62c4" stroke-width="2.45" stroke-linecap="round"/>
<line x1="889.8" y1="345.5" x2="907.2" y2="345.5" stroke="#0d62c4" stroke-width="2.45" stroke-linecap="round"/>
<line x1="891.4" y1="349.7" x2="907.2" y2="349.7" stroke="#0d62c4" stroke-width="2.45" stroke-linecap="round"/>
<line x1="902.4" y1="353.1" x2="911.5" y2="353.1" stroke="#0d62c4" stroke-width="2.45" stroke-linecap="round"/>
<path fill="none" stroke="#e3263a" stroke-width="1.8" d="M909.5,340.4 A6.1,6.1 0 1 1 909.5,351.8"/>
<path fill="#ff0a63" d="M924.2,339.8 L927.2,340.8 L943.4,336.8 V345.8 A9.6,9.5 0 0 1 924.2,345.8Z"/>
<line x1="929.8" y1="326.1" x2="929.8" y2="342.2" stroke="#ff0a63" stroke-width="2.45" stroke-linecap="round"/>
<line x1="934.2" y1="324.0" x2="934.2" y2="342.2" stroke="#ff0a63" stroke-width="2.45" stroke-linecap="round"/>
<line x1="938.5" y1="326.1" x2="938.5" y2="342.2" stroke="#ff0a63" stroke-width="2.45" stroke-linecap="round"/>
<line x1="942.2" y1="332.5" x2="942.2" y2="342.2" stroke="#ff0a63" stroke-width="2.45" stroke-linecap="round"/>
<line x1="925.4" y1="336.6" x2="925.4" y2="345.4" stroke="#ff0a63" stroke-width="2.45" stroke-linecap="round"/>
<path fill="none" stroke="#f6a623" stroke-width="1.8" d="M927.8,344.7 A6.2,6.2 0 1 0 939.6,344.7"/>
<path fill="#109247" d="M961.4,336.1 H954.9 A8.5,9.1 0 0 0 954.9,354.3 H961.4Z"/>
<line x1="956.6" y1="337.3" x2="964.9" y2="337.3" stroke="#109247" stroke-width="2.45" stroke-linecap="round"/>
<line x1="960.9" y1="341.7" x2="975.7" y2="341.7" stroke="#109247" stroke-width="2.45" stroke-linecap="round"/>
<line x1="960.9" y1="345.7" x2="977.5" y2="345.7" stroke="#109247" stroke-width="2.45" stroke-linecap="round"/>
<line x1="960.9" y1="349.9" x2="975.7" y2="349.9" stroke="#109247" stroke-width="2.45" stroke-linecap="round"/>
<line x1="956.6" y1="353.6" x2="969.2" y2="353.6" stroke="#109247" stroke-width="2.45" stroke-linecap="round"/>
<path fill="none" stroke="#c9de2a" stroke-width="1.8" d="M957.2,340.4 A6.1,6.1 0 1 0 957.2,351.8"/>
<text x="891.6" y="372.5" font-size="19.8" fill="#4a4a4a" stroke="#fff" stroke-width="0.25" textLength="42.6" lengthAdjust="spacing">AES</text>
<text x="934.9" y="372.5" font-size="15" fill="#555" stroke="#fff" stroke-width="0.2" textLength="31.5" lengthAdjust="spacingAndGlyphs">CCC</text>
<text x="962.2" y="369.0" font-size="5.2" fill="#555" font-weight="700" textLength="10.5" lengthAdjust="spacingAndGlyphs">ong</text></g>
<g id="aes2"><path fill="#0d62c4" d="M867.7,612.1 H874.5 A8.5,9.1 0 0 1 874.5,630.3 H867.7Z"/>
<line x1="860.2" y1="613.5" x2="872.5" y2="613.5" stroke="#0d62c4" stroke-width="2.45" stroke-linecap="round"/>
<line x1="853.2" y1="617.4" x2="869.3" y2="617.4" stroke="#0d62c4" stroke-width="2.45" stroke-linecap="round"/>
<line x1="851.9" y1="621.5" x2="869.3" y2="621.5" stroke="#0d62c4" stroke-width="2.45" stroke-linecap="round"/>
<line x1="853.5" y1="625.7" x2="869.3" y2="625.7" stroke="#0d62c4" stroke-width="2.45" stroke-linecap="round"/>
<line x1="864.5" y1="629.1" x2="873.6" y2="629.1" stroke="#0d62c4" stroke-width="2.45" stroke-linecap="round"/>
<path fill="none" stroke="#e3263a" stroke-width="1.8" d="M871.6,616.4 A6.1,6.1 0 1 1 871.6,627.8"/>
<path fill="#ff0a63" d="M886.3,615.8 L889.3,616.8 L905.5,612.8 V621.8 A9.6,9.5 0 0 1 886.3,621.8Z"/>
<line x1="891.9" y1="602.1" x2="891.9" y2="618.2" stroke="#ff0a63" stroke-width="2.45" stroke-linecap="round"/>
<line x1="896.3" y1="600.0" x2="896.3" y2="618.2" stroke="#ff0a63" stroke-width="2.45" stroke-linecap="round"/>
<line x1="900.6" y1="602.1" x2="900.6" y2="618.2" stroke="#ff0a63" stroke-width="2.45" stroke-linecap="round"/>
<line x1="904.3" y1="608.5" x2="904.3" y2="618.2" stroke="#ff0a63" stroke-width="2.45" stroke-linecap="round"/>
<line x1="887.5" y1="612.6" x2="887.5" y2="621.4" stroke="#ff0a63" stroke-width="2.45" stroke-linecap="round"/>
<path fill="none" stroke="#f6a623" stroke-width="1.8" d="M889.9,620.7 A6.2,6.2 0 1 0 901.7,620.7"/>
<path fill="#109247" d="M923.5,612.1 H917.0 A8.5,9.1 0 0 0 917.0,630.3 H923.5Z"/>
<line x1="918.7" y1="613.3" x2="927.0" y2="613.3" stroke="#109247" stroke-width="2.45" stroke-linecap="round"/>
<line x1="923.0" y1="617.7" x2="937.8" y2="617.7" stroke="#109247" stroke-width="2.45" stroke-linecap="round"/>
<line x1="923.0" y1="621.7" x2="939.6" y2="621.7" stroke="#109247" stroke-width="2.45" stroke-linecap="round"/>
<line x1="923.0" y1="625.9" x2="937.8" y2="625.9" stroke="#109247" stroke-width="2.45" stroke-linecap="round"/>
<line x1="918.7" y1="629.6" x2="931.3" y2="629.6" stroke="#109247" stroke-width="2.45" stroke-linecap="round"/>
<path fill="none" stroke="#c9de2a" stroke-width="1.8" d="M919.3,616.4 A6.1,6.1 0 1 0 919.3,627.8"/>
<text x="853.7" y="648.4" font-size="19.8" fill="#4a4a4a" stroke="#fff" stroke-width="0.25" textLength="42.6" lengthAdjust="spacing">AES</text>
<text x="897.0" y="648.4" font-size="15" fill="#555" stroke="#fff" stroke-width="0.2" textLength="31.5" lengthAdjust="spacingAndGlyphs">CCC</text>
<text x="924.3" y="644.9" font-size="5.2" fill="#555" font-weight="700" textLength="10.5" lengthAdjust="spacingAndGlyphs">ong</text></g>
<g id="unicef">
<text x="103.9" y="728.5" font-size="42.2" fill="#1cabe2" stroke="#1cabe2" stroke-width="0.8" textLength="110" lengthAdjust="spacingAndGlyphs">unicef</text>
<g fill="none" stroke="#1cabe2" stroke-width="0.7" opacity="0.75">
<circle cx="238.5" cy="711.0" r="14.5" stroke-width="1" opacity="1"/>
<ellipse cx="238.5" cy="711.0" rx="4.3" ry="14.5"/>
<ellipse cx="238.5" cy="711.0" rx="8.4" ry="14.5"/>
<ellipse cx="238.5" cy="711.0" rx="11.9" ry="14.5"/>
<line x1="238.5" y1="696.5" x2="238.5" y2="711.0"/>
<path d="M231.6,698.2 A6.9,1.4 0 0 0 245.4,698.2"/>
<path d="M227.9,701.1 A10.6,2.1 0 0 0 249.1,701.1"/>
<path d="M225.6,704.5 A12.9,2.6 0 0 0 251.4,704.5"/>
<path d="M224.3,708.1 A14.2,2.8 0 0 0 252.7,708.1"/>
</g>
<g fill="#1cabe2">
<circle cx="231.9" cy="705.8" r="4.15"/>
<path d="M225.0,709.9 C225.6,709.1 227.3,708.7 228.3,708.8 C229.4,708.8 230.5,709.1 231.2,710.3 C231.8,711.4 231.1,714.4 232.0,715.6 C232.9,716.7 235.7,716.7 236.5,717.2 C237.3,717.7 237.2,718.3 236.8,718.7 C236.3,719.2 234.9,719.5 233.8,719.7 C232.7,719.8 230.9,719.4 230.2,719.8 C229.5,720.3 230.0,722.1 229.5,722.2 C229.1,722.4 228.2,721.6 227.5,720.8 C226.9,719.9 226.1,718.4 225.6,717.2 C225.1,716.0 224.7,714.6 224.6,713.4 C224.5,712.2 224.3,710.6 225.0,709.9Z"/>
<circle cx="244.7" cy="712.9" r="6.6"/>
<path d="M229.7,722.7 C229.6,722.2 232.1,722.8 233.2,722.6 C234.4,722.4 235.6,722.0 236.8,721.5 C237.9,720.9 239.4,719.8 240.3,719.1 C241.3,718.4 240.9,717.5 242.5,717.2 C244.0,716.9 248.0,717.8 249.6,717.2 C251.1,716.7 251.3,714.0 251.7,714.0 C252.1,714.0 252.3,715.9 252.0,717.2 C251.7,718.5 251.0,720.4 250.1,721.6 C249.2,722.7 248.0,723.4 246.8,724.0 C245.7,724.7 244.4,725.2 243.0,725.5 C241.6,725.8 239.9,726.1 238.4,726.0 C236.9,726.0 235.2,725.7 233.8,725.1 C232.3,724.5 229.8,723.1 229.7,722.7Z"/>
</g>
<path fill="none" stroke="#fff" stroke-width="0.9" d="M236.2,706.3 C236.1,707.1 235.3,709.5 235.4,710.7 C235.5,711.9 236.4,712.5 236.8,713.4 C237.1,714.3 237.4,715.2 237.6,716.1 C237.8,717.0 237.9,718.4 238.0,718.9"/>
<path fill="none" stroke="#fff" stroke-width="0.8" d="M230.0,722.2 C230.6,722.0 232.4,721.5 233.8,721.0 C235.1,720.5 237.3,719.4 238.0,719.1"/>
<path fill="#1cabe2" d="M232.9,727.4 Q231.9,724.5 228.5,723.4 Q229.9,726.8 232.9,727.4Z"/>
<path fill="#1cabe2" d="M232.9,727.4 Q230.0,726.4 227.0,728.5 Q230.5,729.4 232.9,727.4Z"/>
<path fill="#1cabe2" d="M228.3,725.5 Q228.1,722.4 225.0,720.4 Q225.6,724.0 228.3,725.5Z"/>
<path fill="#1cabe2" d="M228.3,725.5 Q225.7,723.7 222.3,725.0 Q225.5,726.7 228.3,725.5Z"/>
<path fill="#1cabe2" d="M224.5,722.4 Q225.2,719.4 222.8,716.7 Q222.3,720.3 224.5,722.4Z"/>
<path fill="#1cabe2" d="M224.5,722.4 Q222.5,720.1 218.9,720.3 Q221.5,722.9 224.5,722.4Z"/>
<path fill="#1cabe2" d="M221.9,718.6 Q223.4,715.9 221.9,712.6 Q220.4,715.9 221.9,718.6Z"/>
<path fill="#1cabe2" d="M221.9,718.6 Q220.7,715.7 217.2,714.8 Q218.8,718.1 221.9,718.6Z"/>
<path fill="#1cabe2" d="M220.6,714.2 Q222.9,712.2 222.6,708.6 Q220.1,711.2 220.6,714.2Z"/>
<path fill="#1cabe2" d="M220.6,714.2 Q220.4,711.1 217.3,709.2 Q217.9,712.8 220.6,714.2Z"/>
<path fill="#1cabe2" d="M220.8,709.8 Q223.6,708.6 224.5,705.0 Q221.3,706.7 220.8,709.8Z"/>
<path fill="#1cabe2" d="M220.8,709.8 Q221.6,706.8 219.4,703.9 Q218.7,707.5 220.8,709.8Z"/>
<path fill="#1cabe2" d="M222.5,705.5 Q225.5,705.3 227.5,702.2 Q223.9,702.8 222.5,705.5Z"/>
<path fill="#1cabe2" d="M222.5,705.5 Q224.2,702.9 222.9,699.5 Q221.2,702.7 222.5,705.5Z"/>
<path fill="#1cabe2" d="M225.4,701.9 Q228.5,702.5 231.2,700.2 Q227.6,699.7 225.4,701.9Z"/>
<path fill="#1cabe2" d="M225.4,701.9 Q227.8,699.9 227.7,696.3 Q225.0,698.8 225.4,701.9Z"/>
<path fill="#1cabe2" d="M229.5,699.1 Q232.2,700.6 235.5,699.0 Q232.2,697.6 229.5,699.1Z"/>
<path fill="#1cabe2" d="M229.5,699.1 Q232.3,697.9 233.1,694.3 Q229.9,696.0 229.5,699.1Z"/>
<path fill="#1cabe2" d="M244.1,727.4 Q246.5,729.4 250.0,728.5 Q247.0,726.4 244.1,727.4Z"/>
<path fill="#1cabe2" d="M244.1,727.4 Q247.1,726.8 248.5,723.4 Q245.1,724.5 244.1,727.4Z"/>
<path fill="#1cabe2" d="M248.7,725.5 Q251.5,726.7 254.7,725.0 Q251.3,723.7 248.7,725.5Z"/>
<path fill="#1cabe2" d="M248.7,725.5 Q251.4,724.0 252.0,720.4 Q248.9,722.4 248.7,725.5Z"/>
<path fill="#1cabe2" d="M252.5,722.4 Q255.5,722.9 258.1,720.3 Q254.5,720.1 252.5,722.4Z"/>
<path fill="#1cabe2" d="M252.5,722.4 Q254.7,720.3 254.2,716.7 Q251.8,719.4 252.5,722.4Z"/>
<path fill="#1cabe2" d="M255.1,718.6 Q258.2,718.1 259.8,714.8 Q256.3,715.7 255.1,718.6Z"/>
<path fill="#1cabe2" d="M255.1,718.6 Q256.6,715.9 255.1,712.6 Q253.6,715.9 255.1,718.6Z"/>
<path fill="#1cabe2" d="M256.4,714.2 Q259.1,712.8 259.7,709.2 Q256.6,711.1 256.4,714.2Z"/>
<path fill="#1cabe2" d="M256.4,714.2 Q256.9,711.2 254.4,708.6 Q254.1,712.2 256.4,714.2Z"/>
<path fill="#1cabe2" d="M256.2,709.8 Q258.3,707.5 257.6,703.9 Q255.4,706.8 256.2,709.8Z"/>
<path fill="#1cabe2" d="M256.2,709.8 Q255.7,706.7 252.5,705.0 Q253.4,708.6 256.2,709.8Z"/>
<path fill="#1cabe2" d="M254.5,705.5 Q255.8,702.7 254.1,699.5 Q252.8,702.9 254.5,705.5Z"/>
<path fill="#1cabe2" d="M254.5,705.5 Q253.1,702.8 249.5,702.2 Q251.5,705.3 254.5,705.5Z"/>
<path fill="#1cabe2" d="M251.6,701.9 Q252.0,698.8 249.3,696.3 Q249.2,699.9 251.6,701.9Z"/>
<path fill="#1cabe2" d="M251.6,701.9 Q249.4,699.7 245.8,700.2 Q248.5,702.5 251.6,701.9Z"/>
<path fill="#1cabe2" d="M247.5,699.1 Q247.1,696.0 243.9,694.3 Q244.7,697.9 247.5,699.1Z"/>
<path fill="#1cabe2" d="M247.5,699.1 Q244.8,697.6 241.5,699.0 Q244.8,700.6 247.5,699.1Z"/>
<path d="M233.2,733.1 L241.1,726.6 M243.6,733.1 L235.9,726.6" fill="none" stroke="#1cabe2" stroke-width="1.2" stroke-linecap="round"/>
</g>
</svg>
<div class="box" style="left:290.9px;top:138.8px;width:233.1px;height:110.0px"><div class="tx" style="left:8.2px"><div class="ln" style="top:7.07px;letter-spacing:0.13px"><b>Santé et nutrition de la mère et</b></div><div class="ln" style="top:25.10px;letter-spacing:-0.02px"><b>de l’enfant dans la région du</b></div><div class="ln" style="top:43.13px;letter-spacing:0.15px"><b>Centre-Ouest</b></div><div class="ln" style="top:61.16px;letter-spacing:0.20px">Période : 2015 - 2018</div><div class="ln" style="top:79.19px;letter-spacing:0.30px">Budget : € 1,3 millions</div></div></div>
<div class="box" style="left:694.8px;top:126.8px;width:233.5px;height:125.9px"><div class="tx" style="left:8.8px"><div class="ln" style="top:10.07px;letter-spacing:0.01px"><b>Assistance nutritionnelle aux</b></div><div class="ln" style="top:28.10px;letter-spacing:-0.04px"><b>populations déplacées dans les</b></div><div class="ln" style="top:46.13px;letter-spacing:0.05px"><b>régions du Centre-Nord et Sahel</b></div><div class="ln" style="top:64.16px;letter-spacing:-0.23px"><b>du Burkina Faso</b></div><div class="ln" style="top:82.19px;letter-spacing:0.27px"><b>P</b>ériode : 2020 - 2021</div><div class="ln" style="top:100.22px;letter-spacing:0.37px">Budget : € 3 millions</div></div></div>
<div class="box" style="left:63.1px;top:410.0px;width:232.9px;height:98.0px"><div class="tx" style="left:8.2px"><div class="ln" style="top:6.57px;letter-spacing:-0.17px"><b>Sur les chemins de la santé :</b></div><div class="ln" style="top:24.60px;letter-spacing:0.59px">projet de lutte contre la</div><div class="ln" style="top:42.63px;letter-spacing:0.80px">malnutrition</div><div class="ln" style="top:60.66px;letter-spacing:0.18px">Période : 2015 - 2018</div><div class="ln" style="top:78.69px;letter-spacing:0.25px">Budget : € 2,1 millions</div></div></div>
<div class="box" style="left:814.8px;top:393.1px;width:233.5px;height:158.0px"><div class="tx" style="left:8.6px"><div class="ln" style="top:7.77px;letter-spacing:0.18px"><b style="letter-spacing:-0.13px">Ressource Terre.</b><span style="letter-spacing:0.49px"> Développement,</span></div><div class="ln" style="top:25.80px;letter-spacing:0.51px">transfert et adaptation des bonnes</div><div class="ln" style="top:43.83px;letter-spacing:0.45px">pratiques pour la sécurité</div><div class="ln" style="top:61.86px;letter-spacing:0.50px">nutritionnelle des enfants et des</div><div class="ln" style="top:79.89px;letter-spacing:0.23px">mères dans les régions du Sud du</div><div class="ln" style="top:97.92px;letter-spacing:0.09px">Burkina Faso</div><div class="ln" style="top:115.95px;letter-spacing:0.16px">Période : 2017 - 2020</div><div class="ln" style="top:133.98px;letter-spacing:0.27px">Budget : € 1,2 millions</div></div></div>
<div class="box" style="left:63.1px;top:746.6px;width:233.6px;height:84.3px"><div class="tx" style="left:8.7px"><div class="ln" style="top:7.27px;letter-spacing:0.04px"><b>Amélioration de la survie et de la</b></div><div class="ln" style="top:25.30px;letter-spacing:0.10px"><b>nutrition en Afrique de l’Ouest</b></div><div class="ln" style="top:43.33px;letter-spacing:0.20px">Période : 2014 - 2015</div><div class="ln" style="top:61.36px;letter-spacing:0.65px">Budget : € 660.000</div></div></div>
<div class="box" style="left:484.3px;top:712.8px;width:233.5px;height:118.4px"><div class="tx" style="left:8.6px"><div class="ln" style="top:7.17px;letter-spacing:0.17px"><b>Lutte contre la malnutrition</b></div><div class="ln" style="top:25.20px;letter-spacing:0.03px"><b>infantile chronique dans les</b></div><div class="ln" style="top:43.23px;letter-spacing:0.03px"><b>régions du Centre-Ouest et Sud-</b></div><div class="ln" style="top:61.26px;letter-spacing:-0.19px"><b>Ouest du Burkina Faso</b></div><div class="ln" style="top:79.29px;letter-spacing:0.16px">Période : 2018 - 2021</div><div class="ln" style="top:97.32px;letter-spacing:0.27px">Budget : € 3,1 millions</div></div></div>
<div class="box" style="left:777.3px;top:657.8px;width:232.8px;height:135.9px"><div class="tx" style="left:8.2px"><div class="ln" style="top:7.17px;letter-spacing:0.03px"><b>Amélioration des conditions</b></div><div class="ln" style="top:25.20px;letter-spacing:0.09px"><b>nutritionnelles des femmes et</b></div><div class="ln" style="top:43.23px;letter-spacing:-0.08px"><b>des enfants dans les districts</b></div><div class="ln" style="top:61.26px;letter-spacing:-0.05px"><b>sanitaires de Garango et</b></div><div class="ln" style="top:79.29px;letter-spacing:-0.02px"><b>Tenkodogo</b></div><div class="ln" style="top:97.32px;letter-spacing:0.28px">Période : 2020 - 2023</div><div class="ln" style="top:115.35px;letter-spacing:0.33px">Budget : € 1,6 millions</div></div></div>
</body></html>
